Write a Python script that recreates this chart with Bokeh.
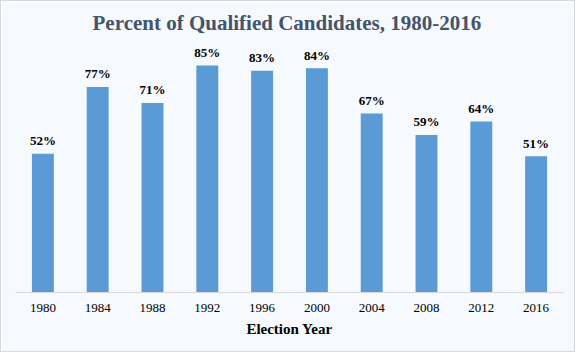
from bokeh.plotting import figure
from bokeh.models import Range1d, FixedTicker, Label, ColumnDataSource
from bokeh.core.properties import value
from bokeh.embed import file_html
from bokeh.resources import INLINE

years = ["1980", "1984", "1988", "1992", "1996", "2000", "2004", "2008", "2012", "2016"]
percents = [52, 77, 71, 85, 83, 84, 67, 59, 64, 51]
title_text = "Percent of Qualified  Candidates, 1980-2016"
x_title = "Election Year"

xs = [i + 0.5 for i in range(len(years))]
labels = [f"{v}%" for v in percents]
src = ColumnDataSource(dict(x=xs, top=percents, label=labels))

FONT = "Liberation Serif"
BG = "#F6F9FD"
p = figure(width=575, height=352, output_backend="svg", toolbar_location=None,
           x_range=Range1d(0, len(years)), y_range=Range1d(0, 108.6),
           min_border_left=14, min_border_right=13, min_border_top=1, min_border_bottom=61,
           background_fill_color=BG, border_fill_color=BG, outline_line_color=None)
p.styles = {"border": "1px solid #D9D9D9"}

p.vbar(x="x", top="top", width=0.4, bottom=0, source=src, color="#5B9BD5", line_color=None)
p.text(x="x", y="top", text="label", source=src, text_align="center", text_baseline="middle",
       y_offset=-13, text_font=value(FONT), text_font_style="bold",
       text_font_size="13px", text_color="#000000")

p.add_layout(Label(x=5.0, y=101.0, text=title_text, text_align="center", text_baseline="middle",
                   text_font=FONT, text_font_style="bold", text_font_size="21px",
                   text_color="#44546A"))

p.yaxis.visible = False
p.xgrid.visible = False
p.ygrid.visible = False
ax = p.xaxis[0]
ax.ticker = FixedTicker(ticks=xs)
ax.major_label_overrides = {x: y for x, y in zip(xs, years)}
ax.major_tick_line_color = None
ax.minor_tick_line_color = None
ax.axis_line_color = "#D9D9D9"
ax.major_label_text_font = FONT
ax.major_label_text_font_size = "13px"
ax.major_label_text_color = "#000000"
ax.major_label_standoff = 5
ax.axis_label = x_title
ax.axis_label_text_font = FONT
ax.axis_label_text_font_style = "bold"
ax.axis_label_text_font_size = "15px"
ax.axis_label_text_color = "#000000"
ax.axis_label_standoff = 6

open("out.html", "w").write(file_html(p, INLINE))
